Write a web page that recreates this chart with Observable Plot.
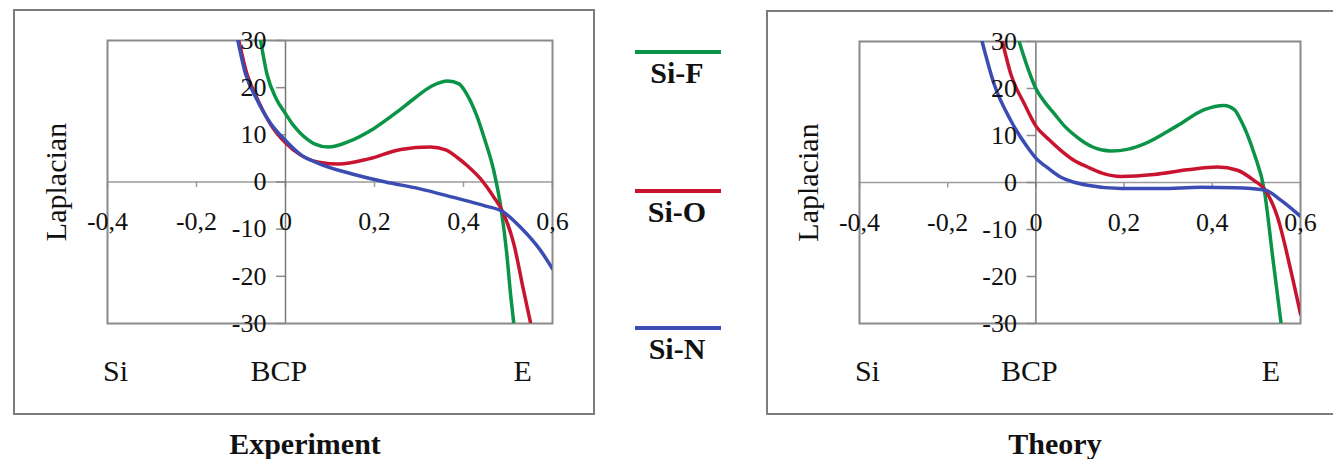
<!DOCTYPE html>
<html>
<head>
<meta charset="utf-8">
<script src="https://cdn.jsdelivr.net/npm/d3@7"></script>
<script src="https://cdn.jsdelivr.net/npm/@observablehq/plot@0.6"></script>
<style>
  html, body { margin: 0; padding: 0; background: #fff; overflow: hidden; }
  #root { position: relative; width: 1333px; height: 459px; overflow: hidden; background: #fff;
          font-family: "Liberation Serif", "Times New Roman", serif; color: #111; }
  .box { position: absolute; border: 2px solid #7d7d7d; box-sizing: border-box; }
  .pane { position: absolute; }
  .pane svg { max-width: none !important; display: block; }
  .title { position: absolute; font-weight: bold; font-size: 30px; line-height: 1; transform: translateX(-50%); white-space: nowrap; }
  .leg-line { position: absolute; height: 4px; }
  .leg-text { position: absolute; font-weight: bold; font-size: 30px; line-height: 1; transform: translateX(-50%); white-space: nowrap; }
</style>
</head>
<body>
<div id="root"></div>
<script>
// ---------- data ----------
const seriesNames = ["Si-F", "Si-O", "Si-N"];
const seriesColors = ["#0b9447", "#c8142f", "#3b4db2"];
const xTicks = [-0.4, -0.2, 0, 0.2, 0.4, 0.6];
const yTicks = [-30, -20, -10, 0, 10, 20, 30];
const pointLabels = ["Si", "BCP", "E"];
const pointLabelX = [-0.382, -0.015, 0.533];
const panelTitles = ["Experiment", "Theory"];

// Experiment curves [x, Laplacian]
const expSiF = [[-0.056,30],[-0.042,23],[-0.02,17.5],[0,14.5],[0.017,12.1],[0.034,10.3],[0.05,9],[0.065,8.1],[0.097,7.4],[0.14,8.5],[0.198,11.3],[0.25,14.8],[0.288,17.6],[0.33,20.4],[0.365,21.4],[0.39,20.8],[0.407,18.7],[0.43,14],[0.446,9.5],[0.468,2.4],[0.485,-6],[0.497,-15],[0.506,-24],[0.513,-30]];
const expSiO = [[-0.105,30],[-0.087,23],[-0.065,18],[-0.034,12.3],[0,8.3],[0.034,5.7],[0.075,4.2],[0.12,3.8],[0.187,4.9],[0.259,6.9],[0.326,7.4],[0.36,6.8],[0.386,5.2],[0.408,3.5],[0.438,0.7],[0.468,-3.2],[0.487,-6.1],[0.513,-13.1],[0.535,-23],[0.551,-30]];
const expSiN = [[-0.107,30],[-0.09,23],[-0.067,18],[-0.035,12.6],[0,8.8],[0.034,5.8],[0.075,3.9],[0.15,1.7],[0.225,0],[0.3,-1.4],[0.375,-3.2],[0.45,-5.1],[0.487,-6.2],[0.528,-9.6],[0.573,-14.5],[0.6,-18.4]];

// Theory curves [x, Laplacian]
const thSiF = [[-0.038,30],[-0.019,24.5],[0,20],[0.02,17.1],[0.042,14.6],[0.065,12],[0.094,9.6],[0.11,8.5],[0.13,7.5],[0.17,6.7],[0.21,7.1],[0.246,8.2],[0.321,12.1],[0.382,15.5],[0.427,16.4],[0.45,15.5],[0.465,13.2],[0.495,6.1],[0.518,-1.7],[0.537,-15.9],[0.556,-30]];
const thSiO = [[-0.076,30],[-0.057,23.1],[-0.026,16.7],[0,12],[0.03,9.1],[0.057,6.8],[0.085,4.8],[0.117,3.3],[0.15,2.0],[0.193,1.3],[0.268,1.7],[0.344,2.7],[0.412,3.3],[0.457,2.6],[0.495,0.4],[0.519,-1.5],[0.548,-7.4],[0.578,-18.7],[0.6,-28]];
const thSiN = [[-0.122,30],[-0.095,21],[-0.057,13.2],[-0.019,7.5],[0,5.2],[0.03,2.9],[0.057,1.1],[0.085,0.1],[0.117,-0.6],[0.193,-1.3],[0.283,-1.3],[0.374,-1.0],[0.45,-1.1],[0.519,-1.6],[0.556,-3.8],[0.6,-7.2]];

const panels = [
  {title: panelTitles[0], curves: [expSiF, expSiO, expSiN], box: {l: 13, t: 9, w: 582, h: 406},
   svg: {l: 14, t: 10, w: 579, h: 404, ml: 93, mr: 41, mt: 30, mb: 91}, titleX: 305},
  {title: panelTitles[1], curves: [thSiF, thSiO, thSiN], box: {l: 766, t: 10, w: 700, h: 405},
   svg: {l: 767, t: 11, w: 576, h: 403, ml: 92, mr: 43, mt: 30, mb: 91}, titleX: 1055}
];

const fmt = d => String(d).replace(".", ",");
const FONT = "Liberation Serif, Times New Roman, serif";
const root = document.getElementById("root");

for (const p of panels) {
  const box = document.createElement("div");
  box.className = "box";
  Object.assign(box.style, {left: p.box.l + "px", top: p.box.t + "px", width: p.box.w + "px", height: p.box.h + "px"});
  root.appendChild(box);

  const rows = [];
  p.curves.forEach((c, i) => c.forEach(([x, y]) => rows.push({x, y, s: seriesNames[i]})));

  const chart = Plot.plot({
    width: p.svg.w, height: p.svg.h,
    marginLeft: p.svg.ml, marginRight: p.svg.mr, marginTop: p.svg.mt, marginBottom: p.svg.mb,
    x: {domain: [-0.4, 0.6], axis: null},
    y: {domain: [-30, 30], axis: null},
    color: {domain: seriesNames, range: seriesColors},
    style: {fontFamily: FONT, background: "transparent", overflow: "visible", maxWidth: "none"},
    marks: [
      Plot.ruleY([0], {stroke: "#9a9a9a", strokeWidth: 1.5}),
      Plot.ruleX(xTicks, {y1: 0, y2: -1.15, stroke: "#9a9a9a", strokeWidth: 1.5}),
      Plot.ruleY(yTicks, {x1: -0.02, x2: 0, stroke: "#8a8a8a", strokeWidth: 1.5}),
      Plot.ruleX([0], {stroke: "#7a7a7a", strokeWidth: 1.5}),
      Plot.frame({stroke: "#8a8a8a", strokeWidth: 2}),
      Plot.line(rows, {x: "x", y: "y", z: "s", stroke: "s", strokeWidth: 3.5, curve: "monotone-x", clip: true}),
      Plot.text(xTicks, {x: d => d, y: 0, dy: 40, text: fmt, fontSize: 26, fill: "#111"}),
      Plot.text(yTicks, {x: 0, y: d => d, dx: -19, textAnchor: "end", text: fmt, fontSize: 26, fill: "#111"}),
      Plot.text(pointLabels, {x: (d, i) => pointLabelX[i], y: -30, dy: 48, text: d => d, fontSize: 30, fill: "#111"}),
      Plot.text(["Laplacian"], {frameAnchor: "left", textAnchor: "middle", dx: -51, rotate: -90, text: d => d, fontSize: 30, fill: "#111"})
    ]
  });
  const holder = document.createElement("div");
  holder.className = "pane";
  Object.assign(holder.style, {left: p.svg.l + "px", top: p.svg.t + "px", width: p.svg.w + "px", height: p.svg.h + "px"});
  holder.appendChild(chart);
  root.appendChild(holder);

  const t = document.createElement("div");
  t.className = "title";
  t.textContent = p.title;
  Object.assign(t.style, {left: p.titleX + "px", top: "429px"});
  root.appendChild(t);
}

// legend (middle column)
const legendY = [52, 191, 328];
seriesNames.forEach((name, i) => {
  const ln = document.createElement("div");
  ln.className = "leg-line";
  Object.assign(ln.style, {left: "635px", width: "86px", top: (legendY[i] - 2) + "px", background: seriesColors[i]});
  root.appendChild(ln);
  const tx = document.createElement("div");
  tx.className = "leg-text";
  tx.textContent = name;
  Object.assign(tx.style, {left: "677px", top: (legendY[i] + 6) + "px"});
  root.appendChild(tx);
});
</script>
</body>
</html>
